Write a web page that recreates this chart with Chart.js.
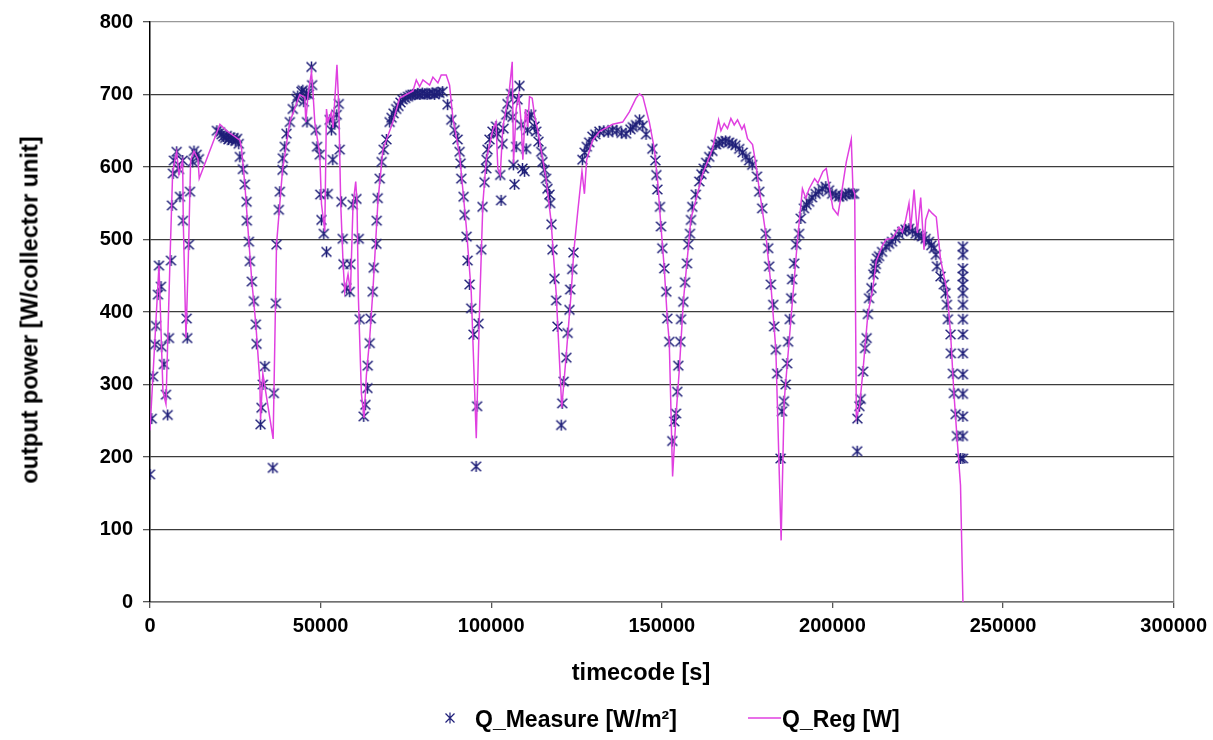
<!DOCTYPE html>
<html>
<head>
<meta charset="utf-8">
<script src="https://cdn.jsdelivr.net/npm/chart.js@4"></script>
<style>
  body { margin: 0; background: #fff; }
  #wrap { position: relative; width: 1213px; height: 740px; font-family: "Liberation Sans", Arial, sans-serif; font-weight: bold; color: #000; }
  .lbl { position: absolute; white-space: nowrap; }
  #ytitle { left: 30px; top: 310px; font-size: 23.5px; transform: translate(-50%, -50%) rotate(-90deg); }
  #xtitle { left: 641px; top: 672px; font-size: 23.5px; transform: translate(-50%, -50%); }
  .leg { top: 719px; font-size: 23px; transform: translateY(-50%); }
</style>
</head>
<body>
<div id="wrap">
  <canvas id="chart" width="1213" height="740"></canvas>
  <div class="lbl" id="ytitle">output power [W/collector unit]</div>
  <div class="lbl" id="xtitle">timecode [s]</div>
  <svg class="lbl" style="left:444px; top:712px" width="12" height="12">
    <path d="M1.5 1.5 L10.5 10.5 M10.5 1.5 L1.5 10.5 M6 0.5 L6 11.5" stroke="#20207a" stroke-width="1.2" fill="none"/>
  </svg>
  <div class="lbl leg" style="left:475px">Q_Measure [W/m²]</div>
  <svg class="lbl" style="left:748px; top:716px" width="33" height="4">
    <line x1="0" y1="2" x2="33" y2="2" stroke="#e040e0" stroke-width="1.6"/>
  </svg>
  <div class="lbl leg" style="left:782px">Q_Reg [W]</div>
</div>
<script>
// Donnees
const xTicks = [0, 50000, 100000, 150000, 200000, 250000, 300000];
const yTicks = [0, 100, 200, 300, 400, 500, 600, 700, 800];

// Q_Measure : temps [s] et puissance
const measureTime = [
  0, 500, 880, 1460, 1760, 2340, 2630, 3220, 3420, 4100, 4680, 5180, 5560, 6150, 6440, 6730, 7020, 7810, 8490, 8780,
  9570, 9660, 10740, 10900, 11410, 11710, 12500, 12880, 13670, 14340,
  19600, 20500, 21000, 21500, 22000, 22500, 23000, 23500, 24000, 24500, 25000, 25500, 26000,
  26340, 27220, 27800, 28300, 28390, 28980, 29270, 29850, 30440, 31020, 31230, 32400, 32690, 33070, 33660,
  36000, 36290, 36880, 37080, 37760, 38050, 38840, 38930, 39510, 40010, 40980, 41850, 42930, 43300, 44400, 44780,
  45070, 45850, 46000, 46540, 47330, 47500, 48590, 48960, 49760, 49900, 50260, 50930, 51720, 52100, 52680, 53170,
  53560, 54150, 54730, 55320, 55610, 56100, 56490, 56700, 57540, 58540, 58740, 59410, 60500, 61180, 61470,
  62640, 63130, 63710, 63800, 64390, 64680, 65270, 65560, 66350, 66440, 66730, 67320, 67900, 68490, 69280,
  70240, 70800, 71400, 72150, 72800, 73400, 74050, 74800, 75600, 76300, 76980, 77700, 78400, 79100, 79800,
  80500, 81200, 81950, 82700, 83400, 84100, 84800, 85760,
  87220, 88300, 89270, 90150, 90730, 91030, 91230, 91910, 92200, 92780, 93070, 93660, 94150, 94830, 95570, 95860,
  96290, 97070, 97460, 98050, 98540, 98630, 98930, 99510, 100390, 101410, 101850, 102640, 102900, 103320, 103610,
  104400, 104780, 105810, 106240, 106500, 106830, 107320, 107710, 108290, 108790, 109170, 109760, 110250, 110630,
  111220, 111710, 112680, 113170, 113850, 114650, 115020, 115610, 116070, 116490, 117070, 117280, 117660, 117950,
  118540, 119040, 119420, 120510, 120810, 121230, 122020, 122410, 122930, 123140, 123740, 124100,
  126730, 127400, 128010, 128700, 129660, 130500, 131710, 133000, 134300, 135510, 136800, 138200, 139510,
  140800, 141500, 142430, 143460, 144400, 145380, 147220, 148100, 148400, 148690, 149460, 149750, 150130,
  150720, 151300, 151600, 152180, 153060, 153650, 154150, 154540, 154830, 155420, 155630, 156300, 156800,
  157370, 157750, 158250, 158550, 158930, 159950, 160980, 161600, 162290, 163000, 163900, 164800, 165870,
  166800, 167710, 168700, 169700, 170630, 171600, 172680, 173700, 174650, 175600, 176500, 177880, 178540,
  179400, 180460, 181160, 181460, 181960, 182650, 182920, 183420, 183810, 184820, 185210, 185800, 186300,
  186720, 187000, 187500, 187900, 188190, 188780, 189360, 190240, 190730, 191670, 192400, 193170, 194000,
  195090, 196000, 197000, 198050, 199000, 199900, 201000, 201950, 203000, 203900, 204800, 205760, 206340,
  207250, 207330, 207900, 208290, 208980, 209560, 210030, 210400, 210730, 211430, 211990, 212450, 212720,
  213080, 213660, 214540, 215700, 216600, 217470, 218500, 219510, 220500, 221470, 222440, 223400, 224410,
  225300, 226250, 227300, 228290, 229000, 229760, 230320, 230640, 231680, 232680, 233150, 233560, 233850,
  234640, 234700, 235320, 235610, 236110, 236480, 237540,
  238250, 238250, 238250, 238250, 238250, 238250, 238250, 238250, 238250, 238250, 238250, 238250, 238250, 238250, 238250
];
const measurePower = [
  176, 253, 311, 355, 381, 424, 464, 435, 352, 328, 286, 258, 364, 471, 547, 591, 609, 621, 597, 559,
  609, 526, 391, 364, 493, 566, 607, 622, 617, 611,
  650, 648, 645, 642, 640, 643, 638, 641, 637, 640, 636, 639, 632,
  614, 597, 576, 552, 526, 497, 470, 442, 415, 383, 356, 245, 268, 300, 325,
  185, 288, 412, 493, 541, 566, 596, 612, 628, 646, 662, 680, 694, 698, 704, 706,
  690, 701, 662, 700, 738, 713, 651, 628, 617, 562, 527, 508, 483, 563, 665, 651,
  610, 659, 672, 687, 624, 552, 501, 466, 433, 428, 466, 548, 556, 501, 390,
  256, 272, 295, 326, 357, 391, 428, 461, 494, 526, 557, 584, 607, 624, 638,
  662, 668, 674, 680, 684, 689, 693, 695, 697, 699, 700, 700, 701, 700, 702,
  701, 700, 701, 702, 700, 703, 702, 704,
  686, 665, 651, 638, 621, 605, 584, 559, 534, 504, 471, 438, 405, 369, 187, 270,
  384, 486, 545, 579, 598, 610, 624, 638, 649, 656, 646, 589, 554, 632, 653,
  672, 687, 701, 669, 603, 576, 628, 693, 712, 658, 598, 594, 625, 651,
  669, 672, 656, 649, 635, 621, 607, 596, 584, 570, 562, 550, 521, 486,
  446, 416, 380, 244, 274, 304, 337, 371, 403, 431, 459, 482,
  610, 620, 628, 634, 642, 645, 649, 650, 648, 651, 650, 647, 646,
  652, 655, 658, 665, 657, 645, 625, 609, 589, 569, 545, 518, 488,
  460, 428, 391, 359, 222, 249, 260, 290, 326, 359, 390, 414, 441,
  467, 493, 508, 527, 545, 562, 580, 590, 598, 606, 614, 622, 631,
  633, 635, 636, 634, 632, 630, 625, 620, 614, 609, 603, 587, 566,
  543, 508, 488, 463, 438, 410, 380, 348, 315, 198, 263, 277, 300,
  329, 359, 390, 419, 445, 467, 493, 508, 529, 543, 548, 552, 558,
  563, 566, 570, 573, 568, 563, 561, 559, 560, 562, 564, 563, 563,
  208, 253, 270, 280, 318, 350, 364, 397, 419, 433, 452, 460, 466,
  474, 477, 483, 490, 494, 497, 502, 507, 511, 514, 515, 512, 508,
  506, 504, 501, 497, 492, 488, 479, 463, 449, 438, 426, 410, 390,
  369, 343, 315, 288, 259, 229, 198,
  490, 479, 460, 449, 438, 426, 410, 390, 369, 343, 314, 287, 256, 229, 198
];

// Q_Reg : courbe de regression
const regTime = [
  0, 880, 2630, 3800, 4680, 5850, 6640, 7320, 7810, 8490, 9570, 9750, 10540, 11210, 11910, 12880, 14050, 14430,
  20490, 22440, 26340, 26830, 27800, 28980, 29850, 31020, 32200, 32400, 33070, 36090, 37080, 38840, 40980,
  43900, 45370, 45660, 46330, 47330, 47800, 48290, 49760, 50260, 51220, 51720, 52180, 53170, 53650, 54790,
  55320, 55900, 56580, 57070, 58040, 58740, 59500, 60290, 60670, 61080, 61960, 62730, 63420, 64390, 65360,
  66810, 68250, 71180, 73170, 77060, 78040, 79020, 79990, 81950, 82920, 84380, 85350, 86810, 87800, 88770,
  90730, 92690, 94150, 95620, 96580, 97560, 98540, 100480, 101410, 101940, 102640, 103410, 104400, 105360,
  106160, 106540, 107320, 108090, 108790, 109270, 110040, 110710, 111220, 112010, 112680, 113650, 116070,
  117530, 119040, 120680, 121970, 123420, 124180, 125350, 126600, 127320, 127980, 129740, 131710, 135600,
  138530, 140490, 142450, 143460, 144440, 146340, 147810, 148790, 149750, 150720, 151600, 152180, 153160,
  154150, 155120, 156300, 158550, 161940, 164870, 166630, 167330, 168290, 169250, 170240, 171220, 172190,
  173470, 174150, 175120, 176590, 177540, 178540, 180460, 181960, 183420, 184970, 185860, 186810, 188280,
  189740, 191210, 192200, 193170, 194780, 195740, 197220, 198200, 199170, 200150, 201610, 202600, 204070,
  205530, 206010, 206530, 207010, 207950, 208930, 210390, 211850, 212830, 214800, 215730, 217680, 219510,
  220490, 221470, 222440, 222930, 223930, 224900, 225870, 226840, 227330, 228290, 229270, 230440, 231020,
  231680, 232680, 233660, 234640, 235610, 236480, 237540, 238250
];
const regPower = [
  237, 313, 464, 290, 273, 470, 593, 610, 621, 590, 609, 526, 364, 470, 609, 622, 611, 584,
  659, 650, 637, 625, 576, 497, 442, 383, 304, 251, 315, 225, 493, 596, 662,
  700, 696, 662, 700, 731, 700, 662, 617, 549, 511, 680, 662, 676, 654, 741,
  685, 549, 468, 428, 452, 428, 548, 580, 552, 419, 287, 254, 313, 364, 432,
  553, 624, 662, 695, 705, 720, 711, 720, 713, 724, 716, 727, 727, 713, 667,
  617, 518, 427, 226, 404, 550, 610, 651, 662, 598, 589, 655, 681, 708,
  745, 605, 680, 700, 660, 610, 680, 655, 697, 695, 672, 650, 584,
  526, 426, 268, 340, 426, 482, 538, 594, 563, 610, 637, 649, 659,
  662, 676, 695, 701, 697, 662, 625, 580, 518, 460, 391, 359, 173,
  256, 320, 414, 529, 590, 625, 665, 650, 660, 653, 667, 658, 665,
  652, 658, 639, 631, 605, 570, 508, 438, 348, 85, 277, 331, 415,
  498, 570, 557, 570, 584, 578, 594, 598, 570, 543, 534, 562, 607,
  638, 570, 563, 254, 270, 318, 397, 433, 470, 493, 500, 502, 517,
  510, 527, 550, 514, 569, 509, 558, 486, 527, 541, 536, 531, 504,
  473, 450, 427, 369, 288, 229, 161, 0
];

// Marqueur etoile (X + trait vertical)
function makeStar(size, color) {
    const c = document.createElement('canvas');
    c.width = size;
    c.height = size;
    const g = c.getContext('2d');
    const m = size / 2, r = size / 2 - 1;
    g.strokeStyle = color;
    g.lineWidth = 1.5;
    g.beginPath();
    g.moveTo(m - r * 0.9, m - r * 0.85); g.lineTo(m + r * 0.9, m + r * 0.85);
    g.moveTo(m + r * 0.9, m - r * 0.85); g.lineTo(m - r * 0.9, m + r * 0.85);
    g.moveTo(m, m - r); g.lineTo(m, m + r);
    g.stroke();
    return c;
}

const measurePoints = measureTime.map((t, i) => ({ x: t, y: measurePower[i] }));
const regPoints = regTime.map((t, i) => ({ x: t, y: regPower[i] }));
const tickFont = { family: '"Liberation Sans", Arial, sans-serif', size: 20, weight: 'bold' };

new Chart(document.getElementById('chart'), {
    type: 'scatter',
    data: {
        datasets: [
            {
                label: 'Q_Reg [W]',
                type: 'line',
                data: regPoints,
                borderColor: '#e040e0',
                borderWidth: 1.5,
                pointRadius: 0,
                tension: 0,
                fill: false,
                order: 0
            },
            {
                label: 'Q_Measure [W/m²]',
                data: measurePoints,
                pointStyle: makeStar(13, '#1e1e78'),
                pointRadius: 6,
                showLine: false,
                order: 1
            }
        ]
    },
    options: {
        responsive: false,
        animation: false,
        layout: { padding: { top: 22, right: 38, left: 0, bottom: 0 } },
        plugins: { legend: { display: false }, tooltip: { enabled: false } },
        scales: {
            x: {
                type: 'linear',
                min: xTicks[0],
                max: xTicks[xTicks.length - 1],
                afterFit: s => { s.height = 138; },
                afterBuildTicks: s => { s.ticks = xTicks.map(v => ({ value: v })); },
                ticks: { font: tickFont, color: '#000', padding: 6, maxRotation: 0, autoSkip: false, callback: v => String(v) },
                grid: {
                    color: c => (c.tick && c.tick.value === 300000) ? '#8a8a8a' : 'rgba(0,0,0,0)',
                    tickColor: '#555',
                    tickLength: 6,
                    lineWidth: 1.3
                },
                border: { color: '#707070', width: 1.5 }
            },
            y: {
                min: yTicks[0],
                max: yTicks[yTicks.length - 1],
                afterFit: s => { s.width = 150; },
                afterBuildTicks: s => { s.ticks = yTicks.map(v => ({ value: v })); },
                ticks: { font: tickFont, color: '#000', padding: 10, callback: v => String(v) },
                grid: {
                    color: c => (c.tick && c.tick.value === 800) ? '#999' : '#3c3c3c',
                    tickColor: '#555',
                    tickLength: 7,
                    lineWidth: 1.3
                },
                border: { color: '#000', width: 1.5 }
            }
        }
    }
});
</script>
</body>
</html>
